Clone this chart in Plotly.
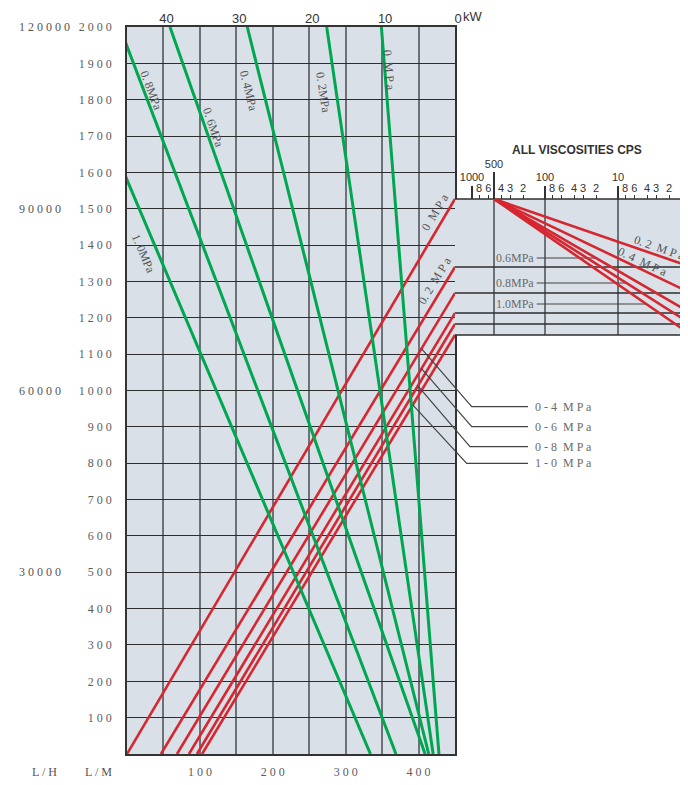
import math
import plotly.graph_objects as go

# ---------------- chart values ----------------
pressures = ["0", "0.2", "0.4", "0.6", "0.8", "1.0"]          # MPa
red_rpm_start = [0, 46.6, 68.6, 85, 96, 103]                  # rpm where flow starts
red_lm_at_max = [1527, 1340, 1268, 1213, 1183, 1153]          # L/M at 450 rpm
green_kw_at_top = [10.1, 17.6, 28.5, 39.1, 46.0, 53.9]        # kW at 2000 L/M
green_kw_at_zero = [2.2, 3.0, 3.6, 4.1, 8.1, 11.6]            # kW at 0 L/M
visc_full_cps = 500                                           # viscosity fan origin
visc_low_cps = 1                                              # viscosity fan end

rpm_tick_labels = [100, 200, 300, 400]
lm_tick_labels = list(range(100, 2001, 100))
lh_tick_labels = [30000, 60000, 90000, 120000]
kw_tick_labels = [40, 30, 20, 10, 0]
cps_major = [1000, 100, 10]
cps_mid = [500]
cps_minor = [800, 600, 400, 300, 200, 80, 60, 40, 30, 20, 8, 6, 4, 3, 2]

# ---------------- layout constants ----------------
W, H = 688, 785
OFF = 8                       # page offset of the figure inside the browser window
PL, PR, PT, PB = 127, 455, 27, 754   # frame in window pixels
RPM_MAX, LM_MAX, KW_MAX = 450, 2000, 45


def pxx(px):                  # window px -> paper x
    return (px - OFF) / W


def pxy(py):                  # window px -> paper y
    return 1 - (py - OFF) / H


XD = [pxx(PL), pxx(PR)]
YD = [pxy(PB), pxy(PT)]
CPS_PX_1000, CPS_PX_DECADE = 472, 73
INSET_LOG_RANGE = [3 - (PR - CPS_PX_1000) / CPS_PX_DECADE,
                   3 - (W + OFF - CPS_PX_1000) / CPS_PX_DECADE]

RED = "#d62630"
GREEN = "#00a651"
BG = "#d9e0e7"
GRID_V = "#6d7278"
GRID_H = "#2e2e2e"
TXT = "#5c5c5c"
DARK = "#333333"
SERIF = "Liberation Serif, DejaVu Serif, serif"
NARROW = "Liberation Sans Narrow, Arial Narrow, Liberation Sans, sans-serif"

rpm_per_px = RPM_MAX / (PR - PL)
lm_per_px = LM_MAX / (PB - PT)


def px2rpm(px):
    return (px - PL) * rpm_per_px


def px2lm(py):
    return (PB - py) * lm_per_px


def paper_y(lm):
    return YD[0] + lm / LM_MAX * (YD[1] - YD[0])


def spaced(v):
    return " ".join(str(v))


def red_lm(i, rpm):
    s = red_rpm_start[i]
    return red_lm_at_max[i] * (rpm - s) / (RPM_MAX - s)


fig = go.Figure()
common = dict(mode="lines", hoverinfo="skip", showlegend=False)

lv_top = red_lm_at_max[0]
lv_bot = min(red_lm_at_max)

# ---------------- inset (viscosity) ----------------
fig.add_trace(go.Scatter(x=[5000, 0.5, 0.5, 5000, 5000],
                         y=[lv_bot, lv_bot, lv_top, lv_top, lv_bot],
                         fill="toself", fillcolor=BG, line=dict(width=0),
                         xaxis="x2", yaxis="y2", **common))
for c in [500, 100, 10]:
    fig.add_trace(go.Scatter(x=[c, c], y=[lv_bot, lv_top], line=dict(color=GRID_V, width=2),
                             xaxis="x2", yaxis="y2", **common))
for lv in red_lm_at_max:
    fig.add_trace(go.Scatter(x=[5000, 0.5], y=[lv, lv], line=dict(color=GRID_H, width=1.5),
                             xaxis="x2", yaxis="y2", **common))

# leader lines for inset labels
inset_lbl_idx = [3, 4, 5]
inset_lbl_py = [258, 283, 304]
INSET_LBL_CPS = 130
for i, py in zip(inset_lbl_idx, inset_lbl_py):
    lm = px2lm(py)
    t = (lv_top - lm) / (lv_top - red_lm_at_max[i])
    lc = math.log10(visc_full_cps) + (math.log10(visc_low_cps) - math.log10(visc_full_cps)) * t
    fig.add_trace(go.Scatter(x=[INSET_LBL_CPS, 10 ** lc], y=[lm, lm],
                             line=dict(color="#444444", width=1.2),
                             xaxis="x2", yaxis="y2", **common))
    fig.add_annotation(x=math.log10(INSET_LBL_CPS * 1.03), y=lm, xref="x2", yref="y2",
                       text=pressures[i] + "MPa", showarrow=False, xanchor="right",
                       yanchor="middle",
                       font=dict(family=SERIF, size=12, color="#6a6a6a"))

for i in range(1, 6):
    fig.add_trace(go.Scatter(x=[visc_full_cps, visc_low_cps], y=[lv_top, red_lm_at_max[i]],
                             line=dict(color=RED, width=2.6), xaxis="x2", yaxis="y2", **common))

# dummy traces so the overlay tick axes render
for ax in ["x5", "x6"]:
    fig.add_trace(go.Scatter(x=[500], y=[lv_top], mode="markers", marker=dict(opacity=0),
                             xaxis=ax, yaxis="y2", hoverinfo="skip", showlegend=False))

# ---------------- main chart ----------------
for i in range(6):
    fig.add_trace(go.Scatter(x=[red_rpm_start[i], RPM_MAX], y=[0, red_lm_at_max[i]],
                             line=dict(color=RED, width=2.6), xaxis="x", yaxis="y", **common))
for i in range(6):
    fig.add_trace(go.Scatter(x=[green_kw_at_zero[i], green_kw_at_top[i]], y=[0, LM_MAX],
                             line=dict(color=GREEN, width=3), xaxis="x3", yaxis="y", **common))

# callout leaders (overlay axes span the whole page in rpm / L/M units)
callout_idx = [2, 3, 4, 5]
callout_start_rpm = [404, 404, 399, 392]
callout_bend_px = [(471.7, 406.7), (471.7, 426.7), (470, 446.7), (466.7, 463.3)]
CALLOUT_END_PX = 528
CALLOUT_TXT_PX = 533
callout_text = ["0 - 4  M P a", "0 - 6  M P a", "0 - 8  M P a", "1 - 0  M P a"]
for i, r0, (bx, by), txt in zip(callout_idx, callout_start_rpm, callout_bend_px, callout_text):
    fig.add_trace(go.Scatter(x=[r0, px2rpm(bx), px2rpm(CALLOUT_END_PX)],
                             y=[red_lm(i, r0), px2lm(by), px2lm(by)],
                             line=dict(color="#444444", width=1.2), xaxis="x4", yaxis="y4", **common))
    fig.add_annotation(x=px2rpm(CALLOUT_TXT_PX), y=px2lm(by), xref="x4", yref="y4",
                       text=txt, showarrow=False, xanchor="left", yanchor="middle",
                       font=dict(family=SERIF, size=12, color="#6a6a6a"))

# ---------------- annotations ----------------
ann_font = dict(family=SERIF, size=12, color="#555555")

# green line labels (kW axis)
green_lbl = [("0  M P a", 9.05, 1882, 85), ("0. 2MPa", 18.1, 1821, 81),
             ("0. 4MPa", 28.3, 1824, 76), ("0. 6MPa", 33.2, 1725, 71),
             ("0. 8MPa", 41.7, 1827, 69), ("1. 0MPa", 42.8, 1378, 67)]
for txt, kx, ly, ang in green_lbl:
    fig.add_annotation(x=kx, y=ly, xref="x3", yref="y", text=txt, showarrow=False,
                       textangle=ang, font=ann_font)

# red line labels
red_lbl = [("0  M P a", 423, 1490, -59), ("0. 2  M P a", 422.5, 1304, -59)]
for txt, rx, ly, ang in red_lbl:
    fig.add_annotation(x=rx, y=ly, xref="x", yref="y", text=txt, showarrow=False,
                       textangle=ang, font=ann_font)

# inset fan labels
fan_lbl = [("0. 2  M P a", 2.66, 1392, 19), ("0. 4  M P a", 4.55, 1353, 25)]
for txt, cx, ly, ang in fan_lbl:
    fig.add_annotation(x=math.log10(cx), y=ly, xref="x2", yref="y2", text=txt, showarrow=False,
                       textangle=ang, font=dict(family=SERIF, size=12, color="#555555"))

# L/H labels
for v in lh_tick_labels:
    fig.add_annotation(x=pxx(17), y=v / 60, xref="paper", yref="y", text=spaced(v),
                       showarrow=False, xanchor="left", yanchor="middle", font=ann_font)

fig.add_annotation(x=pxx(44.5), y=pxy(772), xref="paper", yref="paper", text="L / H",
                   showarrow=False, xanchor="center", yanchor="middle", font=ann_font)
fig.add_annotation(x=pxx(98.5), y=pxy(772), xref="paper", yref="paper", text="L / M",
                   showarrow=False, xanchor="center", yanchor="middle", font=ann_font)
fig.add_annotation(x=pxx(456), y=pxy(778), xref="paper", yref="paper", text="r p m",
                   showarrow=False, font=dict(family=SERIF, size=11, color="#555555"),
                   xanchor="center", yanchor="top")
fig.add_annotation(x=pxx(461), y=pxy(17), xref="paper", yref="paper", text="kW",
                   showarrow=False, xanchor="left", yanchor="middle",
                   font=dict(family=NARROW, size=13, color=DARK))
fig.add_annotation(x=pxx(577), y=pxy(150), xref="paper", yref="paper",
                   text="<b>ALL VISCOSITIES CPS</b>", showarrow=False,
                   xanchor="center", yanchor="middle",
                   font=dict(family=NARROW, size=12, color=DARK))

# main plot background
fig.add_shape(type="rect", xref="x domain", yref="y domain", x0=0, x1=1, y0=0, y1=1,
              fillcolor=BG, line=dict(width=0), layer="below")

x_grid = list(range(0, RPM_MAX + 1, 50))
y_grid = list(range(0, LM_MAX + 1, 100))
inset_tick_common = dict(type="log", range=INSET_LOG_RANGE, anchor="free",
                         position=paper_y(lv_top), side="top", showgrid=False,
                         zeroline=False, showline=False, ticks="outside",
                         automargin=False, tickcolor=DARK,
                         tickfont=dict(family=NARROW, size=11, color=DARK))

fig.update_layout(
    width=W, height=H, margin=dict(l=0, r=0, t=0, b=0, autoexpand=False),
    paper_bgcolor="white", plot_bgcolor="rgba(0,0,0,0)", showlegend=False,
    xaxis=dict(domain=XD, range=[0, RPM_MAX], anchor="y", tickmode="array",
               tickvals=x_grid, automargin=False,
               ticktext=[spaced(v) if v in rpm_tick_labels else "" for v in x_grid],
               showgrid=True, gridcolor=GRID_V, gridwidth=2, zeroline=False,
               showline=True, mirror=True, linecolor=DARK, linewidth=1.5, ticks="",
               tickfont=dict(family=SERIF, size=12, color=TXT), ticklabelstandoff=6),
    yaxis=dict(domain=YD, range=[0, LM_MAX], anchor="x", tickmode="array",
               tickvals=y_grid, automargin=False,
               ticktext=[spaced(v) if v in lm_tick_labels else "" for v in y_grid],
               showgrid=True, gridcolor=GRID_H, gridwidth=1.3, zeroline=False,
               showline=True, mirror=True, linecolor=DARK, linewidth=1.5, ticks="",
               tickfont=dict(family=SERIF, size=12, color=TXT), ticklabelstandoff=11),
    xaxis3=dict(overlaying="x", side="top", range=[KW_MAX, 0], anchor="y",
                tickmode="array", tickvals=kw_tick_labels, automargin=False,
                ticktext=[str(v) for v in kw_tick_labels], showgrid=False,
                zeroline=False, showline=False, ticks="", ticklabelshift=-3,
                tickfont=dict(family=NARROW, size=13, color=DARK)),
    xaxis2=dict(domain=[pxx(PR), 1], tickmode="array", tickvals=cps_major,
                ticktext=[str(v) for v in cps_major], ticklen=13, tickwidth=1.5,
                ticklabelstandoff=1, **inset_tick_common),
    yaxis2=dict(domain=YD, range=[0, LM_MAX], anchor="x2", visible=False, automargin=False),
    xaxis5=dict(overlaying="x2", tickmode="array", tickvals=cps_mid,
                ticktext=[str(v) for v in cps_mid], ticklen=27, tickwidth=1.5,
                **inset_tick_common),
    xaxis6=dict(overlaying="x2", tickmode="array", tickvals=cps_minor,
                ticktext=[str(int(round(v / 10 ** math.floor(math.log10(v))))) for v in cps_minor],
                ticklen=4, tickwidth=1.2, ticklabelstandoff=-1, **inset_tick_common),
    xaxis4=dict(domain=[0, 1], range=[px2rpm(OFF), px2rpm(W + OFF)], anchor="y4",
                visible=False, automargin=False),
    yaxis4=dict(domain=[0, 1], range=[px2lm(H + OFF), px2lm(OFF)], anchor="x4",
                visible=False, automargin=False),
)

fig.write_html("out.html")
